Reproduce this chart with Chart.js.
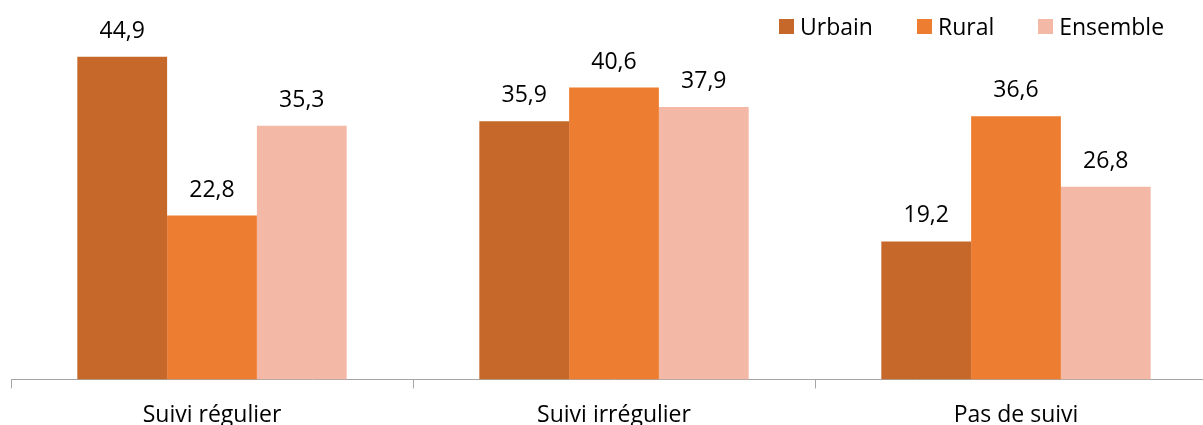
<!DOCTYPE html>
<html>
<head>
<meta charset="utf-8">
<script src="https://cdn.jsdelivr.net/npm/chart.js@4/dist/chart.umd.min.js"></script>
<style>
  html, body { margin: 0; padding: 0; background: #fff; overflow: hidden; width: 1203px; height: 425px; }
  #wrap { position: absolute; left: 0; top: 0; width: 1230px; height: 443px; }
  #legend { position: absolute; left: 779px; top: 10px; display: flex; align-items: center;
    font-family: "Open Sans", sans-serif; font-size: 23px; color: #000; white-space: nowrap; }
  #legend .item { display: flex; align-items: center; margin-right: 44px; }
  #legend .sw { width: 15px; height: 15px; margin-right: 6px; }
</style>
</head>
<body>
<div id="wrap"><canvas id="c"></canvas></div>
<div id="legend"></div>
<script>
const categories = ["Suivi régulier", "Suivi irrégulier", "Pas de suivi"];
const seriesNames = ["Urbain", "Rural", "Ensemble"];
const urbain = [44.9, 35.9, 19.2];
const rural = [22.8, 40.6, 36.6];
const ensemble = [35.3, 37.9, 26.8];
const colors = ["#C5682A", "#ED7D31", "#F4B8A6"];

const seriesValues = [urbain, rural, ensemble];

const fmt = v => v.toFixed(1).replace('.', ',');

const valueLabels = {
  id: 'valueLabels',
  afterDatasetsDraw(chart) {
    const ctx = chart.ctx;
    ctx.save();
    ctx.font = '23px "Open Sans", sans-serif';
    ctx.fillStyle = '#000';
    ctx.textAlign = 'center';
    ctx.textBaseline = 'alphabetic';
    chart.data.datasets.forEach((ds, i) => {
      chart.getDatasetMeta(i).data.forEach((bar, j) => {
        ctx.fillText(fmt(ds.data[j]), bar.x, bar.y - 19);
      });
    });
    ctx.restore();
  }
};

const legendEl = document.getElementById('legend');
seriesNames.forEach((n, i) => {
  const it = document.createElement('div');
  it.className = 'item';
  const sw = document.createElement('span');
  sw.className = 'sw';
  sw.style.background = colors[i];
  const tx = document.createElement('span');
  tx.textContent = n;
  it.appendChild(sw); it.appendChild(tx);
  legendEl.appendChild(it);
});

new Chart(document.getElementById('c'), {
  type: 'bar',
  data: {
    labels: categories,
    datasets: seriesNames.map((n, i) => ({
      label: n,
      data: seriesValues[i],
      backgroundColor: colors[i],
      borderWidth: 0,
      categoryPercentage: 0.67,
      barPercentage: 1.0
    }))
  },
  options: {
    responsive: true,
    maintainAspectRatio: false,
    animation: false,
    layout: { padding: { left: 11, right: 13, top: 20, bottom: 1 } },
    plugins: { legend: { display: false }, tooltip: { enabled: false }, title: { display: false } },
    scales: {
      x: {
        grid: { display: true, offset: true, drawOnChartArea: false, drawTicks: true, tickLength: 9, color: '#A6A6A6' },
        border: { display: true, color: '#A6A6A6', width: 1 },
        ticks: { color: '#000', padding: 13, font: { family: '"Open Sans", sans-serif', size: 23 } }
      },
      y: {
        display: false,
        min: 0,
        max: 50
      }
    }
  },
  plugins: [valueLabels]
});
</script>
</body>
</html>
